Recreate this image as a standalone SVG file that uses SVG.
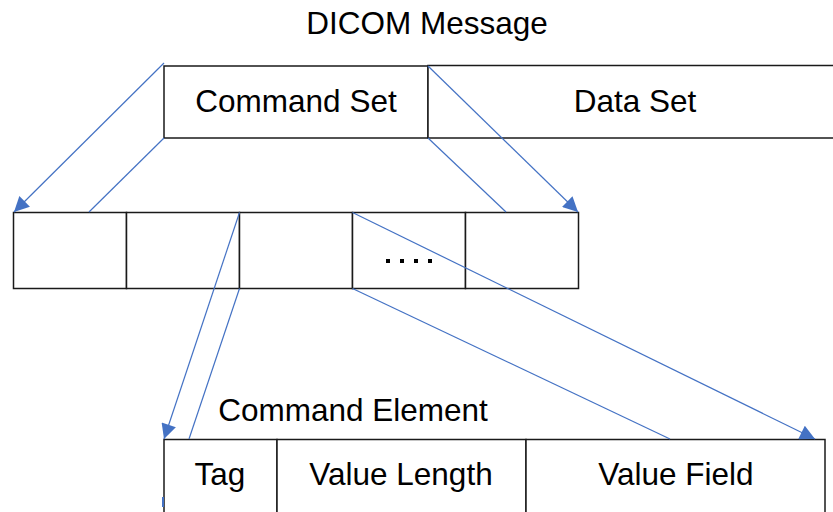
<svg xmlns="http://www.w3.org/2000/svg" width="833" height="512" viewBox="0 0 833 512">
  <style>
    .box { fill: #ffffff; stroke: #1a1a1a; stroke-width: 1.5; }
    .lbl { font-family: "Liberation Sans", Arial, sans-serif; font-size: 31.5px; fill: #000000; text-anchor: middle; }
    .link { stroke: #4472C4; stroke-width: 1.2; fill: none; }
    .dot { fill: #000000; }
  </style>
  <defs>
    <marker id="arrow" viewBox="0 0 10 10" refX="10" refY="5" markerWidth="18" markerHeight="15" markerUnits="userSpaceOnUse" orient="auto">
      <path d="M0,0 L10,5 L0,10 Z" fill="#4472C4"/>
    </marker>
  </defs>

  <rect width="833" height="512" fill="#ffffff"/>

  <g id="title">
    <text class="lbl" x="427" y="34">DICOM Message</text>
  </g>

  <g id="command-set">
    <rect class="box" x="164" y="66" width="264" height="72"/>
    <text class="lbl" x="296" y="112">Command Set</text>
  </g>
  <g id="data-set">
    <rect class="box" x="428" y="65.5" width="420" height="72.5"/>
    <text class="lbl" x="635" y="112">Data Set</text>
  </g>

  <g id="element-1"><rect class="box" x="13.5" y="212.5" width="113" height="76"/></g>
  <g id="element-2"><rect class="box" x="126.5" y="212.5" width="113" height="76"/></g>
  <g id="element-3"><rect class="box" x="239.5" y="212.5" width="113" height="76"/></g>
  <g id="element-more">
    <rect class="box" x="352.5" y="212.5" width="113" height="76"/>
    <rect class="dot" x="386" y="259" width="4" height="4"/>
    <rect class="dot" x="400" y="259" width="4" height="4"/>
    <rect class="dot" x="414" y="259" width="4" height="4"/>
    <rect class="dot" x="428" y="259" width="4" height="4"/>
  </g>
  <g id="element-last"><rect class="box" x="465.5" y="212.5" width="113" height="76"/></g>

  <g id="element-title">
    <text class="lbl" x="353" y="421">Command Element</text>
  </g>
  <g id="tag">
    <rect class="box" x="164" y="439.5" width="113" height="90"/>
    <text class="lbl" x="220" y="485">Tag</text>
  </g>
  <g id="value-length">
    <rect class="box" x="277" y="439.5" width="249" height="90"/>
    <text class="lbl" x="401" y="485">Value Length</text>
  </g>
  <g id="value-field">
    <rect class="box" x="526" y="439.5" width="299" height="90"/>
    <text class="lbl" x="676" y="485">Value Field</text>
  </g>

  <g id="connectors">
    <line class="link" x1="164" y1="63" x2="14" y2="212" marker-end="url(#arrow)"/>
    <line class="link" x1="164" y1="138" x2="89" y2="212"/>
    <line class="link" x1="428" y1="66" x2="578" y2="212" marker-end="url(#arrow)"/>
    <line class="link" x1="428" y1="138" x2="506" y2="212"/>
    <line class="link" x1="239.5" y1="212.5" x2="164" y2="439" marker-end="url(#arrow)"/>
    <line class="link" x1="239.5" y1="288.5" x2="189" y2="439"/>
    <line class="link" x1="352.5" y1="212.5" x2="815" y2="439" marker-end="url(#arrow)"/>
    <line class="link" x1="352.5" y1="288.5" x2="670" y2="439"/>
    <line x1="163" y1="497" x2="163" y2="507" stroke="#4472C4" stroke-width="2"/>
  </g>
</svg>
